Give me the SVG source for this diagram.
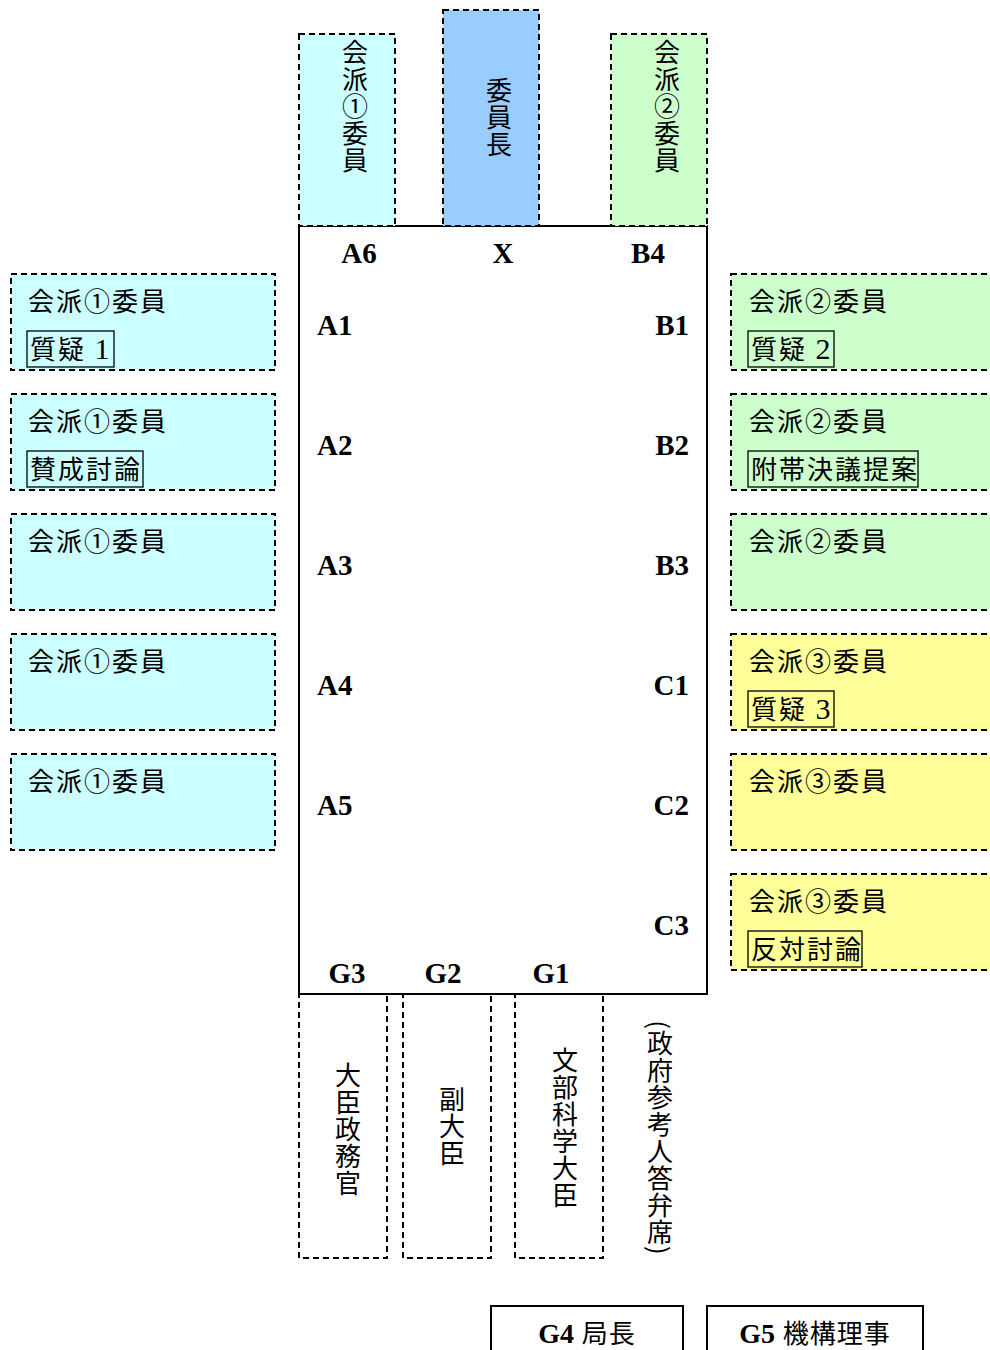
<svg xmlns="http://www.w3.org/2000/svg" width="990" height="1350" viewBox="0 0 990 1350">
<style>
.dash{stroke:#000;stroke-width:2;stroke-dasharray:6 4;}
.solid{stroke:#000;stroke-width:2;fill:none;}
.thin{stroke:#000;stroke-width:1.3;fill:none;}
.c1{fill:#ccffff;}
.c2{fill:#ccffcc;}
.c3{fill:#ffff99;}
.cx{fill:#99ccff;}
.jp{font-family:"Liberation Serif","Noto Sans CJK JP",serif;font-size:26px;fill:#000;letter-spacing:2px;}
.num{font-size:30px;}
.bt{font-family:"Liberation Serif","Noto Sans CJK JP",serif;font-size:26px;fill:#000;letter-spacing:1px;}
.lbl{font-family:"Liberation Serif","Noto Sans CJK JP",serif;font-size:29px;font-weight:bold;fill:#000;}
.vt{font-family:"Noto Sans CJK JP","Liberation Serif",sans-serif;font-size:26px;fill:#000;writing-mode:vertical-rl;text-anchor:middle;letter-spacing:1px;}
</style>
<rect width="990" height="1350" fill="#fff"/>

<g id="table">
<rect x="299" y="226" width="408" height="768" class="solid"/>
<text class="lbl" x="359" y="263" text-anchor="middle">A6</text>
<text class="lbl" x="503" y="263" text-anchor="middle">X</text>
<text class="lbl" x="648" y="263" text-anchor="middle">B4</text>
<text class="lbl" x="317" y="335">A1</text>
<text class="lbl" x="317" y="455">A2</text>
<text class="lbl" x="317" y="575">A3</text>
<text class="lbl" x="317" y="695">A4</text>
<text class="lbl" x="317" y="815">A5</text>
<text class="lbl" x="689" y="335" text-anchor="end">B1</text>
<text class="lbl" x="689" y="455" text-anchor="end">B2</text>
<text class="lbl" x="689" y="575" text-anchor="end">B3</text>
<text class="lbl" x="689" y="695" text-anchor="end">C1</text>
<text class="lbl" x="689" y="815" text-anchor="end">C2</text>
<text class="lbl" x="689" y="935" text-anchor="end">C3</text>
<text class="lbl" x="347" y="983" text-anchor="middle">G3</text>
<text class="lbl" x="443" y="983" text-anchor="middle">G2</text>
<text class="lbl" x="551" y="983" text-anchor="middle">G1</text>
</g>

<g id="top-party1">
<rect x="299" y="34" width="96" height="192" class="c1 dash"/>
<text class="vt" x="355" y="107">会派①委員</text>
</g>
<g id="top-chair">
<rect x="443" y="10" width="96" height="216" class="cx dash"/>
<text class="vt" x="499" y="118">委員長</text>
</g>
<g id="top-party2">
<rect x="611" y="34" width="96" height="192" class="c2 dash"/>
<text class="vt" x="667" y="107">会派②委員</text>
</g>

<g id="left-1">
<rect x="11" y="274" width="264" height="96" class="c1 dash"/>
<text class="jp" x="28" y="311">会派①委員</text>
<rect x="27" y="331" width="87" height="36" class="thin"/>
<text class="jp" x="30" y="359">質疑 <tspan class="num">1</tspan></text>
</g>
<g id="left-2">
<rect x="11" y="394" width="264" height="96" class="c1 dash"/>
<text class="jp" x="28" y="431">会派①委員</text>
<rect x="27" y="451" width="116" height="36" class="thin"/>
<text class="jp" x="30" y="479">賛成討論</text>
</g>
<g id="left-3">
<rect x="11" y="514" width="264" height="96" class="c1 dash"/>
<text class="jp" x="28" y="551">会派①委員</text>
</g>
<g id="left-4">
<rect x="11" y="634" width="264" height="96" class="c1 dash"/>
<text class="jp" x="28" y="671">会派①委員</text>
</g>
<g id="left-5">
<rect x="11" y="754" width="264" height="96" class="c1 dash"/>
<text class="jp" x="28" y="791">会派①委員</text>
</g>

<g id="right-1">
<rect x="731" y="274" width="270" height="96" class="c2 dash"/>
<text class="jp" x="749" y="311">会派②委員</text>
<rect x="748" y="331" width="86" height="36" class="thin"/>
<text class="jp" x="751" y="359">質疑 <tspan class="num">2</tspan></text>
</g>
<g id="right-2">
<rect x="731" y="394" width="270" height="96" class="c2 dash"/>
<text class="jp" x="749" y="431">会派②委員</text>
<rect x="748" y="451" width="170" height="36" class="thin"/>
<text class="jp" x="751" y="479">附帯決議提案</text>
</g>
<g id="right-3">
<rect x="731" y="514" width="270" height="96" class="c2 dash"/>
<text class="jp" x="749" y="551">会派②委員</text>
</g>
<g id="right-4">
<rect x="731" y="634" width="270" height="96" class="c3 dash"/>
<text class="jp" x="749" y="671">会派③委員</text>
<rect x="748" y="691" width="86" height="36" class="thin"/>
<text class="jp" x="751" y="719">質疑 <tspan class="num">3</tspan></text>
</g>
<g id="right-5">
<rect x="731" y="754" width="270" height="96" class="c3 dash"/>
<text class="jp" x="749" y="791">会派③委員</text>
</g>
<g id="right-6">
<rect x="731" y="874" width="270" height="96" class="c3 dash"/>
<text class="jp" x="749" y="911">会派③委員</text>
<rect x="748" y="931" width="114" height="36" class="thin"/>
<text class="jp" x="751" y="959">反対討論</text>
</g>

<g id="bottom-g3">
<rect x="299" y="994" width="88" height="264" class="dash" fill="none"/>
<text class="vt" x="348" y="1130">大臣政務官</text>
</g>
<g id="bottom-g2">
<rect x="403" y="994" width="88" height="264" class="dash" fill="none"/>
<text class="vt" x="452" y="1127">副大臣</text>
</g>
<g id="bottom-g1">
<rect x="515" y="994" width="88" height="264" class="dash" fill="none"/>
<text class="vt" x="565" y="1128">文部科学大臣</text>
</g>
<g id="gov-seat">
<text class="vt" x="660" y="1138">(政府参考人答弁席)</text>
</g>

<g id="g4">
<rect x="491" y="1306" width="192" height="60" class="solid"/>
<text class="bt" x="587" y="1343" text-anchor="middle"><tspan font-weight="bold" font-size="28" letter-spacing="0">G4</tspan> 局長</text>
</g>
<g id="g5">
<rect x="707" y="1306" width="216" height="60" class="solid"/>
<text class="bt" x="815" y="1343" text-anchor="middle"><tspan font-weight="bold" font-size="28" letter-spacing="0">G5</tspan> 機構理事</text>
</g>

<g id="connectors"/>
</svg>
